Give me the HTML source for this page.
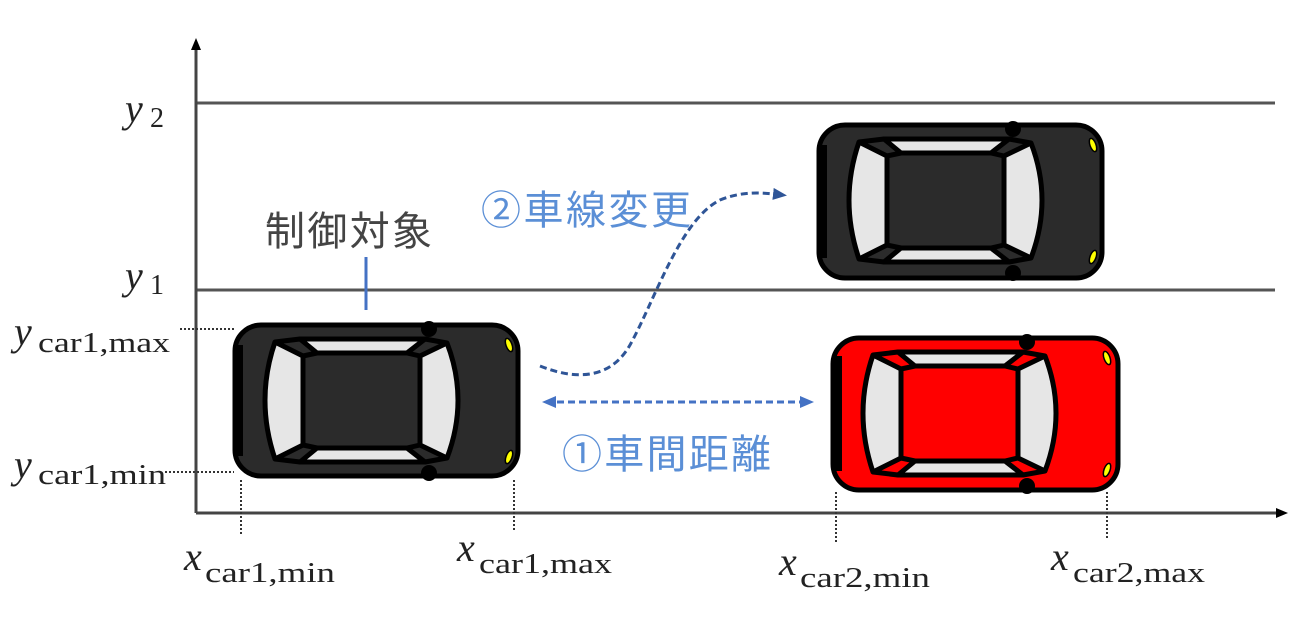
<!DOCTYPE html>
<html><head><meta charset="utf-8"><style>
html,body{margin:0;padding:0;background:#fff;}
svg{display:block;}
.m{font-family:"Liberation Serif",serif;font-style:italic;font-size:40px;fill:#222;}
.s{font-family:"Liberation Serif",serif;font-size:28px;fill:#222;}
.j{font-family:"Liberation Sans","Noto Sans CJK JP",sans-serif;}
</style></head><body>
<svg width="1300" height="628" viewBox="0 0 1300 628" xmlns="http://www.w3.org/2000/svg">
<defs>
<g id="det">
  <polygon points="67,16 192,16 174,30 84,30" fill="#e6e6e6" stroke="#000" stroke-width="5" stroke-linejoin="round"/>
  <polygon points="67,139 192,139 174,125 84,125" fill="#e6e6e6" stroke="#000" stroke-width="5" stroke-linejoin="round"/>
  <path d="M42,19 L70,33 L70,122 L42,136 Q22,77 42,19 Z" fill="#e6e6e6" stroke="#000" stroke-width="5" stroke-linejoin="round"/>
  <path d="M187,33 L214,20 Q236,77 214,135 L187,122 Z" fill="#e6e6e6" stroke="#000" stroke-width="5" stroke-linejoin="round"/>
  <line x1="70" y1="33" x2="84" y2="30" stroke="#000" stroke-width="5"/>
  <line x1="70" y1="122" x2="84" y2="125" stroke="#000" stroke-width="5"/>
  <line x1="187" y1="33" x2="174" y2="30" stroke="#000" stroke-width="5"/>
  <line x1="187" y1="122" x2="174" y2="125" stroke="#000" stroke-width="5"/>
  <line x1="192" y1="16" x2="214" y2="20" stroke="#000" stroke-width="5"/>
  <line x1="192" y1="139" x2="214" y2="135" stroke="#000" stroke-width="5"/>
  <line x1="67" y1="16" x2="42" y2="19" stroke="#000" stroke-width="5"/>
  <line x1="67" y1="139" x2="42" y2="136" stroke="#000" stroke-width="5"/>
  <circle cx="196" cy="6" r="8" fill="#000"/>
  <circle cx="196" cy="150" r="8" fill="#000"/>
  <ellipse cx="276" cy="22" rx="3" ry="7" fill="#ffff00" stroke="#000" stroke-width="1.5" transform="rotate(-20 276 22)"/>
  <ellipse cx="276" cy="134" rx="3" ry="7" fill="#ffff00" stroke="#000" stroke-width="1.5" transform="rotate(20 276 134)"/>
</g>
<marker id="ah2" markerWidth="14" markerHeight="12" refX="10" refY="6" orient="auto-start-reverse" markerUnits="userSpaceOnUse"><path d="M0,0 L14,6 L0,12 Z" fill="#4472c4"/></marker>
<marker id="ah3" markerWidth="14" markerHeight="12" refX="10" refY="6" orient="auto" markerUnits="userSpaceOnUse"><path d="M0,0 L14,6 L0,12 Z" fill="#2f5597"/></marker>
<marker id="ax" markerWidth="12" markerHeight="12" refX="6" refY="6" orient="auto" markerUnits="userSpaceOnUse"><path d="M0,1 L12,6 L0,11 Z" fill="#000"/></marker>
</defs>

<line x1="196" y1="103" x2="1275" y2="103" stroke="#555" stroke-width="3"/>
<line x1="196" y1="290" x2="1275" y2="290" stroke="#555" stroke-width="3"/>
<line x1="196" y1="513" x2="196" y2="44" stroke="#444" stroke-width="3" marker-end="url(#ax)"/>
<line x1="196" y1="513" x2="1282" y2="513" stroke="#444" stroke-width="3" marker-end="url(#ax)"/>

<g stroke="#333" stroke-width="2" stroke-dasharray="2,2">
<line x1="180" y1="329" x2="234" y2="329"/>
<line x1="165" y1="472" x2="234" y2="472"/>
<line x1="241" y1="480" x2="241" y2="535"/>
<line x1="514" y1="480" x2="514" y2="530"/>
<line x1="836" y1="492" x2="836" y2="542"/>
<line x1="1107" y1="492" x2="1107" y2="538"/>
</g>

<g transform="translate(233,323)">
<rect x="2" y="2" width="283" height="151" rx="26" fill="#2b2b2b" stroke="#000" stroke-width="5"/>
<rect x="2" y="22" width="8" height="111" fill="#000"/>
<use href="#det"/>
</g>
<g transform="translate(817,123)">
<rect x="2" y="2" width="283" height="153" rx="26" fill="#2b2b2b" stroke="#000" stroke-width="5"/>
<rect x="2" y="22" width="8" height="113" fill="#000"/>
<use href="#det"/>
</g>
<g transform="translate(831,336)">
<rect x="2" y="2" width="285" height="152" rx="26" fill="#ff0000" stroke="#000" stroke-width="5"/>
<rect x="2" y="20" width="9" height="115" fill="#000"/>
<use href="#det"/>
</g>

<path d="M540,366 C575,380 610,380 630,345 C655,300 680,220 720,200 C745,190 765,193 783,195" fill="none" stroke="#2f5597" stroke-width="3" stroke-dasharray="7,4" marker-end="url(#ah3)"/>
<line x1="546" y1="402" x2="810" y2="402" stroke="#4472c4" stroke-width="3" stroke-dasharray="7,4" marker-start="url(#ah2)" marker-end="url(#ah2)"/>
<line x1="366" y1="257" x2="366" y2="310" stroke="#4472c4" stroke-width="3"/>

<text x="265" y="245" class="j" font-size="40" fill="#444" textLength="167">制御対象</text>
<text x="481" y="224" class="j" font-size="40" fill="#5b8fd6" textLength="210">②車線変更</text>
<text x="562" y="468" class="j" font-size="40" fill="#5b8fd6" textLength="209">①車間距離</text>

<text x="125" y="122" class="m">y</text><text x="150" y="127" class="s">2</text>
<text x="125" y="289" class="m">y</text><text x="150" y="294" class="s">1</text>
<text x="14" y="345" class="m">y</text><text x="38" y="352" class="s" textLength="132" lengthAdjust="spacingAndGlyphs">car1,max</text>
<text x="14" y="478" class="m">y</text><text x="38" y="484" class="s" textLength="128" lengthAdjust="spacingAndGlyphs">car1,min</text>

<text x="184" y="570" class="m">x</text><text x="205" y="582" class="s" textLength="130" lengthAdjust="spacingAndGlyphs">car1,min</text>
<text x="457" y="561" class="m">x</text><text x="479" y="573" class="s" textLength="133" lengthAdjust="spacingAndGlyphs">car1,max</text>
<text x="779" y="575" class="m">x</text><text x="800" y="587" class="s" textLength="130" lengthAdjust="spacingAndGlyphs">car2,min</text>
<text x="1051" y="570" class="m">x</text><text x="1073" y="582" class="s" textLength="132" lengthAdjust="spacingAndGlyphs">car2,max</text>
</svg>
</body></html>
